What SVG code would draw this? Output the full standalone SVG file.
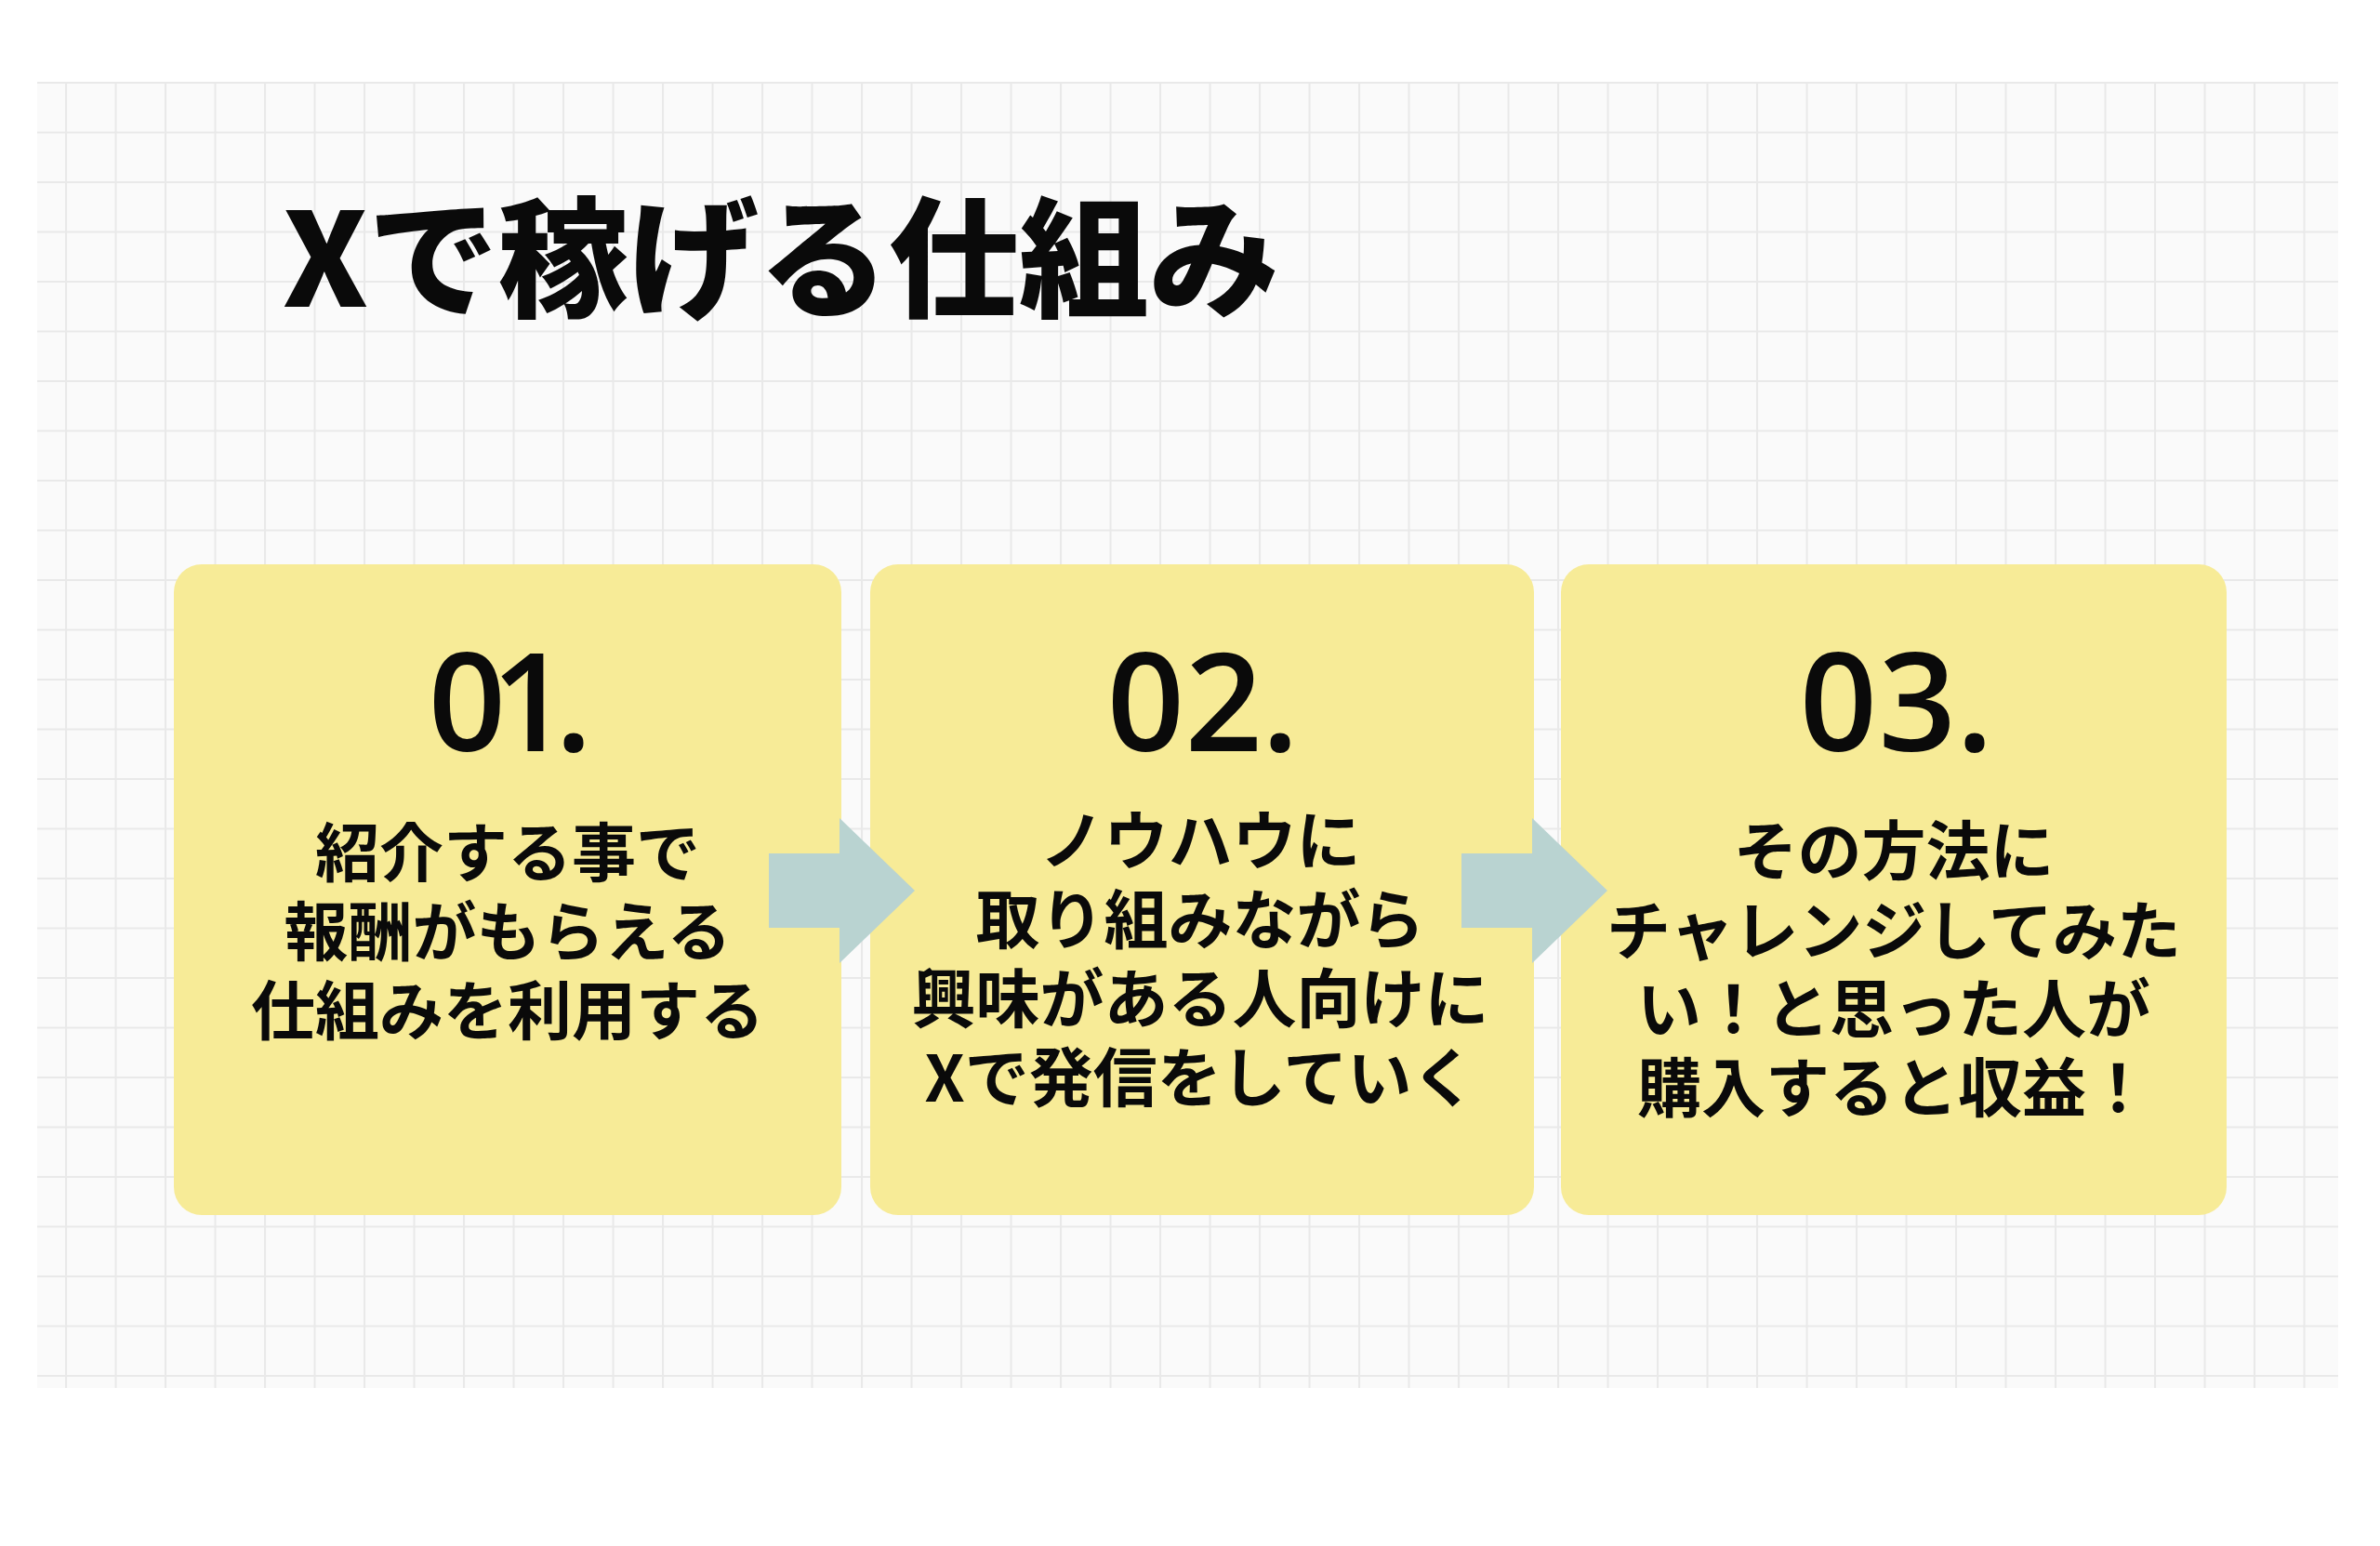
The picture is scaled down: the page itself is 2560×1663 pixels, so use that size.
<svg xmlns="http://www.w3.org/2000/svg" width="2560" height="1663" viewBox="0 0 2560 1663">
<style>
.title{font-family:"Noto Sans CJK JP","Noto Sans CJK SC",sans-serif;font-weight:900;font-size:140px;fill:#0a0a0a}
.num{font-family:"Open Sans","Noto Sans",sans-serif;font-weight:600;font-size:146px;fill:#0a0a0a;text-anchor:middle;font-variant-numeric:proportional-nums}
.body{font-family:"Noto Sans CJK JP","Noto Sans CJK SC",sans-serif;font-weight:700;font-size:69px;fill:#0a0a0a;text-anchor:middle}
.card{fill:#F7EB97}
.arrow{fill:#B9D3D1}
</style>
<defs>
<pattern id="grid" patternUnits="userSpaceOnUse" x="16.5" y="88" width="53.5" height="53.5">
<rect x="0" y="0" width="53.5" height="53.5" fill="#fafafa"/>
<path d="M0 0H53.5M0 0V53.5" stroke="#e9e9e9" stroke-width="4" fill="none"/>
</pattern>
</defs>
<rect x="0" y="0" width="2560" height="1663" fill="#ffffff"/>
<rect id="background" x="40" y="88" width="2475" height="1405" fill="url(#grid)"/>
<text id="title" class="title" x="304" y="330">Xで稼げる仕組み</text>
<g id="step1">
<rect class="card" x="187" y="607" width="718" height="700" rx="30"/>
<text class="num" x="548" y="808" textLength="178" lengthAdjust="spacing">01.</text>
<text class="body"><tspan x="546" y="943">紹介する事で</tspan><tspan x="546" y="1028">報酬がもらえる</tspan><tspan x="546" y="1113">仕組みを利用する</tspan></text>
</g>
<g id="step2">
<rect class="card" x="936" y="607" width="714" height="700" rx="30"/>
<text class="num" x="1293" y="808">02.</text>
<text class="body"><tspan x="1291" y="930">ノウハウに</tspan><tspan x="1291" y="1015">取り組みながら</tspan><tspan x="1291" y="1100">興味がある人向けに</tspan><tspan x="1291" y="1185">Xで発信をしていく</tspan></text>
</g>
<g id="step3">
<rect class="card" x="1679" y="607" width="716" height="700" rx="30"/>
<text class="num" x="2039" y="808">03.</text>
<text class="body"><tspan x="2037" y="941">その方法に</tspan><tspan x="2037" y="1027">チャレンジしてみた</tspan><tspan x="2037" y="1111">い！と思った人が</tspan><tspan x="2037" y="1196">購入すると収益！</tspan></text>
</g>
<g id="connectors">
<polygon class="arrow" points="827,918 903,918 903,880 984,958 903,1036 903,998 827,998"/>
<polygon class="arrow" points="1572,918 1648,918 1648,880 1729,958 1648,1036 1648,998 1572,998"/>
</g>
</svg>
